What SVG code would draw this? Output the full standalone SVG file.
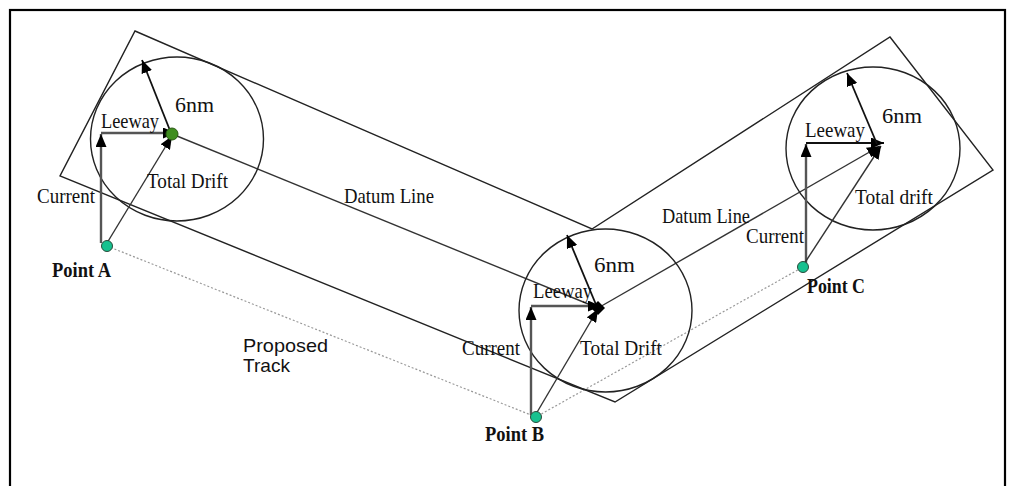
<svg xmlns="http://www.w3.org/2000/svg" width="1017" height="486" viewBox="0 0 1017 486">
<style>
.t{font-family:"Liberation Serif","Times New Roman",serif;font-size:21px;fill:#111}
.b{font-weight:bold}
.s{font-family:"Liberation Sans",Arial,sans-serif;font-size:18.5px;fill:#111}
.o{fill:none;stroke:#222;stroke-width:1.4}
.ar{fill:none;stroke:#111;stroke-width:1.8}
.gr{fill:none;stroke:#555;stroke-width:2.4}
.th{fill:none;stroke:#333;stroke-width:1.4}
.trk{fill:none;stroke:#999;stroke-width:1.2;stroke-dasharray:2 2}
.pt{fill:#17c18f;stroke:#2a4a3a;stroke-width:1}
</style>
<defs>
<marker id="ah" markerUnits="userSpaceOnUse" markerWidth="13" markerHeight="11" refX="13" refY="5.5" orient="auto">
<path d="M0,0 L13,5.5 L0,11 z" fill="#000"/>
</marker>
</defs>
<rect x="10" y="10" width="995" height="500" fill="#fff" stroke="#000" stroke-width="2.2"/>
<g id="search-area">
<polygon class="o" points="135,31 592,229 890,37 993,170 615,402 60,176"/>
</g>
<g id="track">
<polyline class="trk" points="107,246 536,417 803,267"/>
</g>
<g id="connectors">
<line class="th" x1="172" y1="134" x2="598" y2="308"/>
<line class="th" x1="598" y1="308" x2="880" y2="146" marker-end="url(#ah)"/>
</g>
<g id="zone-a">
<ellipse class="o" cx="177" cy="139" rx="86.5" ry="82"/>
<line class="gr" x1="101" y1="243" x2="101" y2="134" marker-end="url(#ah)"/>
<line class="gr" x1="101" y1="133" x2="176" y2="133" marker-end="url(#ah)"/>
<line class="th" x1="107" y1="243" x2="172" y2="136" marker-end="url(#ah)"/>
<line class="ar" x1="171" y1="133" x2="142" y2="60" marker-end="url(#ah)"/>
<circle cx="172" cy="134" r="6" fill="#3f8d1f" stroke="#2a5a14" stroke-width="1"/>
<text class="t" x="175" y="112" textLength="39" lengthAdjust="spacingAndGlyphs">6nm</text>
<text class="t" x="101" y="128" textLength="58" lengthAdjust="spacingAndGlyphs">Leeway</text>
<text class="t" x="147" y="188" textLength="81" lengthAdjust="spacingAndGlyphs">Total Drift</text>
<text class="t" x="37" y="203" textLength="58" lengthAdjust="spacingAndGlyphs">Current</text>
</g>
<g id="point-a">
<circle class="pt" cx="107" cy="246" r="5.5"/>
<text class="t b" x="52" y="277" textLength="59" lengthAdjust="spacingAndGlyphs">Point A</text>
</g>
<g id="label-datum-1">
<text class="t" x="344" y="203" textLength="90" lengthAdjust="spacingAndGlyphs">Datum Line</text>
</g>
<g id="label-track">
<text class="s" x="243" y="352" textLength="85" lengthAdjust="spacingAndGlyphs">Proposed</text>
<text class="s" x="243" y="372" textLength="47" lengthAdjust="spacingAndGlyphs">Track</text>
</g>
<g id="zone-b">
<ellipse class="o" cx="605.5" cy="310.5" rx="86.5" ry="81.5"/>
<line class="gr" x1="531" y1="415" x2="531" y2="307" marker-end="url(#ah)"/>
<line class="gr" x1="531" y1="306" x2="601" y2="306" marker-end="url(#ah)"/>
<line class="th" x1="536" y1="414" x2="598" y2="309" marker-end="url(#ah)"/>
<line class="ar" x1="597" y1="307" x2="567" y2="235" marker-end="url(#ah)"/>
<path d="M598,301 L605,308 L598,315 L591,308 z" fill="#000"/>
<text class="t" x="594" y="272" textLength="41" lengthAdjust="spacingAndGlyphs">6nm</text>
<text class="t" x="533" y="298" textLength="59" lengthAdjust="spacingAndGlyphs">Leeway</text>
<text class="t" x="580" y="355" textLength="82" lengthAdjust="spacingAndGlyphs">Total Drift</text>
<text class="t" x="462" y="355" textLength="58" lengthAdjust="spacingAndGlyphs">Current</text>
</g>
<g id="point-b">
<circle class="pt" cx="536" cy="417" r="5.5"/>
<text class="t b" x="485" y="441" textLength="59" lengthAdjust="spacingAndGlyphs">Point B</text>
</g>
<g id="label-datum-2">
<text class="t" x="662" y="223" textLength="88" lengthAdjust="spacingAndGlyphs">Datum Line</text>
</g>
<g id="zone-c">
<ellipse class="o" cx="873" cy="148.5" rx="87" ry="81.5"/>
<line class="gr" x1="806" y1="263" x2="806" y2="144" marker-end="url(#ah)"/>
<line class="ar" x1="806" y1="143" x2="884" y2="143" marker-end="url(#ah)"/>
<line class="th" x1="804" y1="264" x2="881" y2="146" marker-end="url(#ah)"/>
<line class="ar" x1="877" y1="144" x2="847" y2="73" marker-end="url(#ah)"/>
<text class="t" x="882" y="123" textLength="40" lengthAdjust="spacingAndGlyphs">6nm</text>
<text class="t" x="805" y="137" textLength="60" lengthAdjust="spacingAndGlyphs">Leeway</text>
<text class="t" x="855" y="204" textLength="78" lengthAdjust="spacingAndGlyphs">Total drift</text>
<text class="t" x="746" y="243" textLength="58" lengthAdjust="spacingAndGlyphs">Current</text>
</g>
<g id="point-c">
<circle class="pt" cx="803" cy="267" r="5.5"/>
<text class="t b" x="807" y="293" textLength="58" lengthAdjust="spacingAndGlyphs">Point C</text>
</g>
</svg>
